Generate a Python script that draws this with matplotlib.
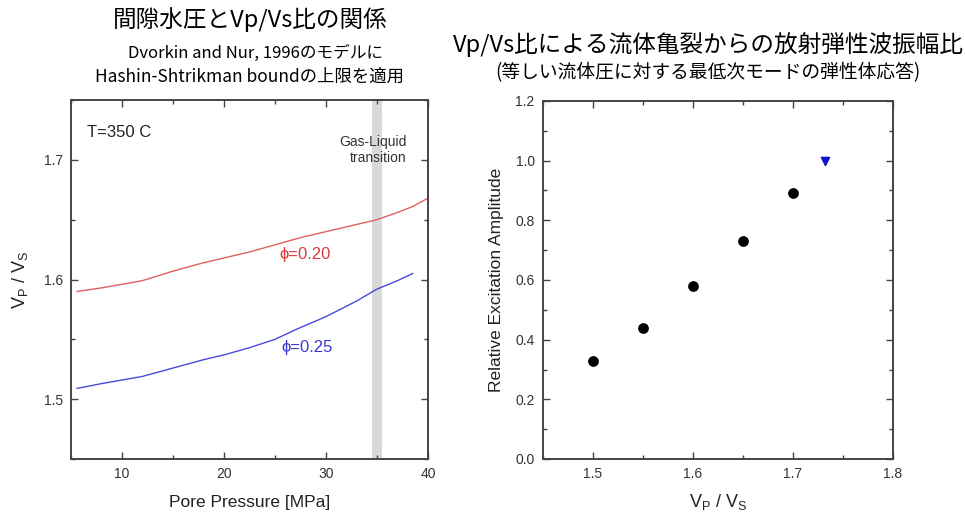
import numpy as np
import matplotlib
matplotlib.use('Agg')
from matplotlib import pyplot as plt
from matplotlib.ticker import MultipleLocator, FormatStrFormatter

plt.rcParams['font.family'] = ['Liberation Sans', 'DejaVu Sans']
plt.rcParams['mathtext.fontset'] = 'custom'
plt.rcParams['mathtext.rm'] = 'Liberation Sans'
jp = ['Noto Sans CJK JP', 'DejaVu Sans']

# left panel: Vp/Vs vs pore pressure
pressure = [5.6, 8, 10, 12, 15, 18, 20, 22.5, 25, 27.5, 30, 32, 34, 35, 37, 38.5, 40]
vpvs_020 = [1.590, 1.593, 1.596, 1.599, 1.607, 1.614, 1.618, 1.623, 1.629, 1.635, 1.640,
            1.644, 1.648, 1.650, 1.656, 1.661, 1.668]
pressure_025 = [5.6, 8, 10, 12, 15, 18, 20, 22.5, 25, 27, 30, 33, 35, 37, 38.5]
vpvs_025 = [1.509, 1.513, 1.516, 1.519, 1.526, 1.533, 1.537, 1.543, 1.550, 1.558, 1.569,
            1.582, 1.592, 1.599, 1.605]

# right panel: relative excitation amplitude vs Vp/Vs
ratio = [1.50, 1.55, 1.60, 1.65, 1.70]
amplitude = [0.33, 0.44, 0.58, 0.73, 0.89]
ratio_ref = [1.732]
amplitude_ref = [1.0]

tick_col = '#333333'
spine_col = '#444444'

fig = plt.figure(figsize=(9.65, 5.13), dpi=100)

def style(ax):
    for s in ax.spines.values():
        s.set_color(spine_col)
        s.set_linewidth(1.4)
    ax.tick_params(which='both', direction='in', top=True, right=True,
                   colors=spine_col, labelcolor=tick_col, labelsize=10, width=1)
    ax.tick_params(which='major', length=5, pad=6)
    ax.tick_params(which='minor', length=3)

# ---- left
ax1 = fig.add_axes([71 / 965, 1 - 459 / 513, 357 / 965, 359 / 513])
ax1.axvspan(34.5, 35.5, color='#d9d9d9', lw=0)
ax1.plot(pressure, vpvs_020, color='#e06060', lw=1)
ax1.plot(pressure_025, vpvs_025, color='#4a4ad8', lw=1)
ax1.set_xlim(5, 40)
ax1.set_ylim(1.45, 1.75)
ax1.xaxis.set_major_locator(MultipleLocator(10))
ax1.xaxis.set_minor_locator(MultipleLocator(5))
ax1.yaxis.set_major_locator(MultipleLocator(0.1))
ax1.yaxis.set_minor_locator(MultipleLocator(0.05))
style(ax1)
ax1.set_xlabel('Pore Pressure [MPa]', fontsize=12.5, color='#222222', labelpad=10)
ax1.set_ylabel(r'V$_\mathregular{P}$ / V$_\mathregular{S}$', fontsize=13, color='#222222', labelpad=10)
ax1.text(6.6, 1.723, 'T=350 C', fontsize=12, color='#222222', va='center')
ax1.text(37.9, 1.708, 'Gas-Liquid\ntransition', fontsize=10, color='#333333',
         ha='right', va='center', linespacing=1.2)
ax1.text(25.4, 1.621, 'ϕ=0.20', fontsize=12, color='#d83a3a', va='center')
ax1.text(25.6, 1.543, 'ϕ=0.25', fontsize=12, color='#3a3ad0', va='center')

fig.text(250 / 965, 1 - 20 / 513, '間隙水圧とVp/Vs比の関係', family=jp, fontsize=17,
         ha='center', va='center')
fig.text(256 / 965, 1 - 53 / 513, 'Dvorkin and Nur, 1996のモデルに', family=jp, fontsize=12,
         ha='center', va='center')
fig.text(250 / 965, 1 - 77 / 513, 'Hashin-Shtrikman boundの上限を適用', family=jp, fontsize=12.5,
         ha='center', va='center')

# ---- right
ax2 = fig.add_axes([543 / 965, 1 - 459 / 513, 350 / 965, 358 / 513])
ax2.scatter(ratio, amplitude, s=45, color='black', zorder=3)
ax2.scatter(ratio_ref, amplitude_ref, s=35, marker='v', color='#1010d0', zorder=3)
ax2.set_xlim(1.45, 1.8)
ax2.set_ylim(0, 1.2)
ax2.xaxis.set_major_locator(MultipleLocator(0.1))
ax2.xaxis.set_minor_locator(MultipleLocator(0.05))
ax2.yaxis.set_major_locator(MultipleLocator(0.2))
ax2.yaxis.set_minor_locator(MultipleLocator(0.1))
ax2.xaxis.set_major_formatter(FormatStrFormatter('%.1f'))
ax2.yaxis.set_major_formatter(FormatStrFormatter('%.1f'))
style(ax2)
ax2.set_xlabel(r'V$_\mathregular{P}$ / V$_\mathregular{S}$', fontsize=13, color='#222222', labelpad=8)
ax2.set_ylabel('Relative Excitation Amplitude', fontsize=12.5, color='#222222', labelpad=8)

fig.text(708 / 965, 1 - 45 / 513, 'Vp/Vs比による流体亀裂からの放射弾性波振幅比', family=jp,
         fontsize=17, ha='center', va='center')
fig.text(708 / 965, 1 - 73 / 513, '(等しい流体圧に対する最低次モードの弾性体応答)', family=jp,
         fontsize=13.5, ha='center', va='center')

fig.savefig('out.png', dpi=100, facecolor='white')
